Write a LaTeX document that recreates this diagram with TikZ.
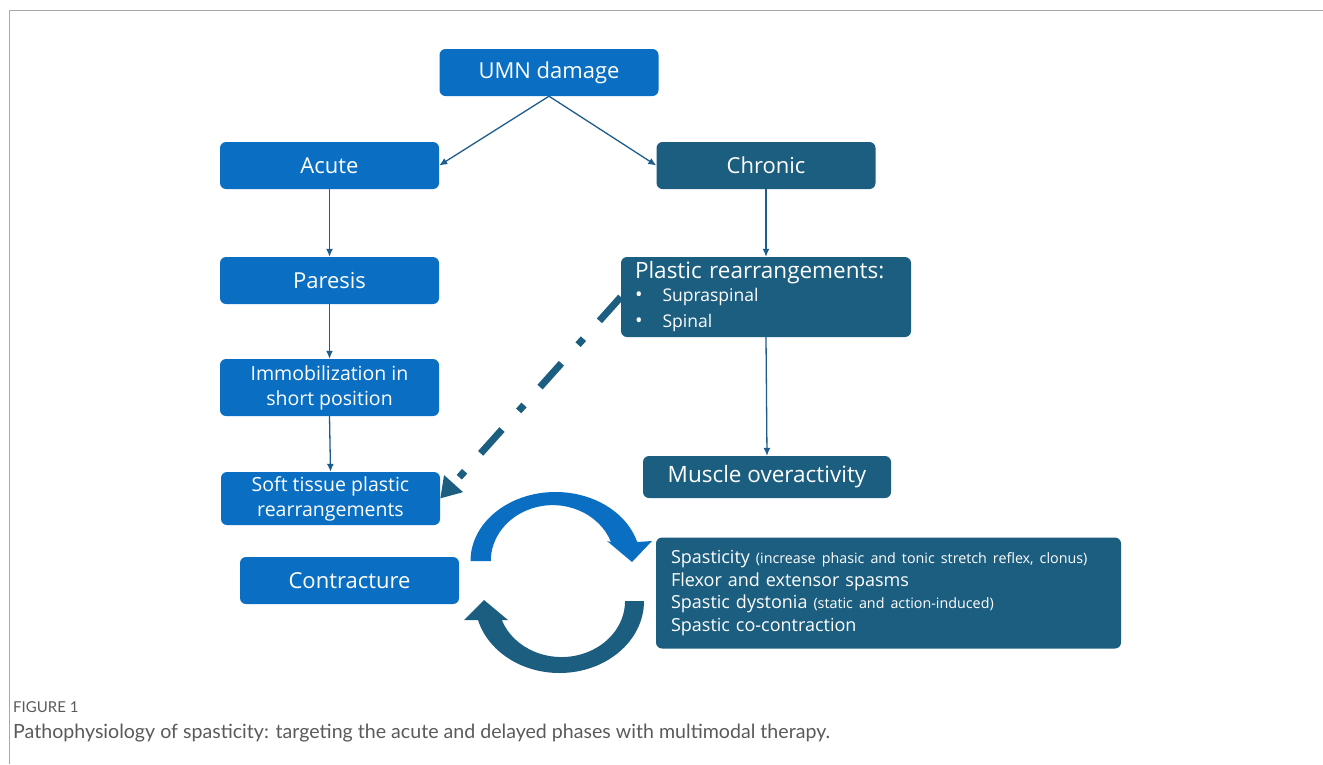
\documentclass[tikz,border=0pt]{standalone}
\usepackage{fontspec}
\setmainfont{Open Sans}
\newfontfamily\capfont{Lato}
\usetikzlibrary{arrows.meta}
\definecolor{lb}{HTML}{0A6FC2}
\definecolor{db}{HTML}{1C5E80}
\definecolor{lnc}{HTML}{1E5C8C}
\definecolor{framec}{HTML}{A8A8A8}
\definecolor{capc}{HTML}{5A5A5A}
\begin{document}
\begin{tikzpicture}[x=1pt,y=-1pt,
  basebox/.style={rounded corners=6pt, text=white, inner sep=0pt, align=center,
     minimum width=219pt, minimum height=47pt, font=\fontsize{22}{26}\selectfont},
  lbox/.style={basebox, fill=lb},
  dbox/.style={basebox, fill=db},
  twoline/.style={font=\fontsize{19.5}{25}\selectfont},
  conn/.style={draw=lnc, line width=1.3pt, -{Latex[length=8pt,width=7pt]}},
  dashdot/.style={draw=db, line width=7pt, line cap=butt,
     dash pattern=on 32pt off 24pt on 8pt off 25pt,
     -{Triangle[length=20pt,width=24pt]}}]
\useasboundingbox (0,0) rectangle (1323,764);
\draw[framec, line width=1pt] (1323,10) -- (9,10) -- (9,764);

\node[lbox] (umn) at (549,72.5) {UMN damage};
\node[lbox] (acute) at (329.5,165.5) {Acute};
\node[dbox] (chronic) at (766,165.5) {Chronic};
\node[lbox] (paresis) at (329.5,280.5) {Paresis};
\node[dbox, minimum width=290pt, minimum height=80pt, align=left, text width=262pt] (plastic) at (766,297)
  {\raisebox{-3pt}{\fontsize{22.5}{26}\selectfont Plastic rearrangements:}\\[0pt]
   {\fontsize{17.5}{23}\selectfont {\fontsize{20}{23}\selectfont\textbullet}\hspace{20pt}Supraspinal}\\
   {\fontsize{17.5}{23}\selectfont {\fontsize{20}{23}\selectfont\textbullet}\hspace{20pt}Spinal}};
\node[lbox, minimum height=57pt, twoline] (immob) at (329.5,387.5) {Immobilization in\\short position};
\node[lbox, minimum height=53pt, twoline] (soft) at (330.5,498.5) {Soft tissue plastic\\rearrangements};
\node[dbox, minimum width=248pt, minimum height=42pt, font=\fontsize{22.5}{26}\selectfont] (muscle) at (767,477) {Muscle overactivity};
\node[lbox] (contr) at (349.5,580.5) {Contracture};
\node[dbox, minimum width=465pt, minimum height=111pt, align=left, text width=435pt,
   font=\fontsize{18}{22.7}\selectfont] (spast) at (888.5,593)
  {Spasticity {\fontsize{14.3}{22.7}\selectfont (increase phasic and tonic stretch reflex, clonus)}\\
   Flexor and extensor spasms\\
   Spastic dystonia {\fontsize{14.3}{22.7}\selectfont (static and action-induced)}\\
   Spastic co-contraction};

\draw[conn] (umn.south) -- (acute.east);
\draw[conn] (umn.south) -- (chronic.west);
\draw[conn] (acute.south) -- (paresis.north);
\draw[conn] (paresis.south) -- (immob.north);
\draw[conn] (immob.south) -- (soft.north);
\draw[conn] (chronic.south) -- (plastic.north);
\draw[conn] (plastic.south) -- (muscle.north);
\draw[dashdot] (plastic.west) -- (soft.east);

% cycle arrows
\fill[lb] (470.5,561) arc[start angle=180, end angle=344, x radius=85, y radius=69]
   -- (652,541) -- (632,562) -- (607,541) -- (611,542)
   arc[start angle=340, end angle=180, x radius=62, y radius=56] -- cycle;
\fill[db] (644,601) arc[start angle=0, end angle=164.7, x radius=84.5, y radius=72]
   -- (464,620) -- (484,600) -- (508,620) -- (501.8,620)
   arc[start angle=160.2, end angle=0, x radius=63.5, y radius=56] -- cycle;

\node[anchor=base west, inner sep=0pt, text=capc, font=\capfont\fontsize{15}{17}\selectfont] (figlab) at (13,712) {FIGURE 1};
\node[anchor=base west, inner sep=0pt, text=capc, font=\capfont\fontsize{19.6}{22}\selectfont] (caption) at (13,738)
  {Pathophysiology of spasticity: targeting the acute and delayed phases with multimodal therapy.};
\end{tikzpicture}
\end{document}
